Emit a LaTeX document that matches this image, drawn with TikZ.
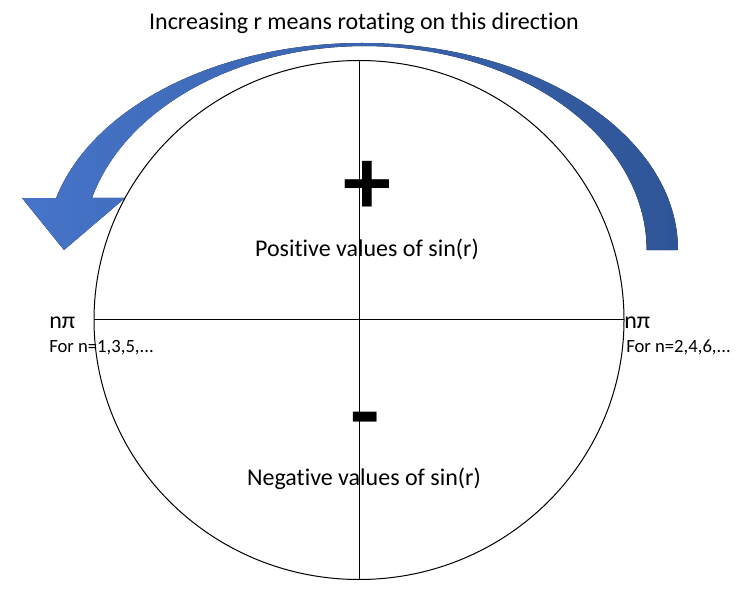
\documentclass[tikz,border=0pt]{standalone}
\usepackage{fontspec}
\setmainfont[Ligatures={NoCommon}]{Carlito}
\usepackage{tikz}
\usetikzlibrary{shapes.geometric, positioning, calc}
\definecolor{ArrowLight}{RGB}{70,116,200}
\definecolor{ArrowDark}{RGB}{47,85,151}
\tikzstyle{bigtext} = [font=\fontsize{18}{20}\selectfont, inner sep=0pt, anchor=base]
\tikzstyle{smalltext} = [font=\fontsize{14}{16}\selectfont, inner sep=0pt, anchor=base west]
\tikzstyle{signtext} = [font=\fontsize{72}{72}\selectfont\bfseries, inner sep=0pt, anchor=base]
\tikzstyle{axis} = [line width=0.75pt, black]

\begin{document}
\begin{tikzpicture}[x=0.75pt, y=-0.75pt]
    \useasboundingbox (0,0) rectangle (753,591);

    % rotation arrow
    \fill[left color=ArrowLight, right color=ArrowDark]
        (678,250) arc[start angle=0, end angle=-165.5, x radius=316, y radius=207]
        -- (22,198) -- (64,250) -- (125,198) -- (92,198)
        arc[start angle=-165.2, end angle=0, x radius=282, y radius=204]
        -- cycle;

    % unit circle and axes
    \node[draw, axis, ellipse, minimum width=397.5pt, minimum height=389.25pt, inner sep=0pt, outer sep=0pt] (circ) at (359,320) {};
    \draw[axis] (circ.north) -- (circ.south);
    \draw[axis] (circ.west) -- (circ.east);

    \node[bigtext] (title) at (364,30) {Increasing r means rotating on this direction};
    \node[bigtext] (pos) at (367,257) {Positive values of sin(r)};
    \node[bigtext] (neg) at (364,485) {Negative values of sin(r)};
    \node[signtext] (plus) at (367,215) {+};
    \node[signtext] (minus) at (365,444) {-};

    \node[bigtext, anchor=base west] (leftpi) at (49,329) {nπ};
    \node[smalltext] (leftodd) at (49,353) {For n=1,3,5,...};
    \node[bigtext, anchor=base west] (rightpi) at (624,329) {nπ};
    \node[smalltext] (righteven) at (626,353) {For n=2,4,6,...};
\end{tikzpicture}
\end{document}
